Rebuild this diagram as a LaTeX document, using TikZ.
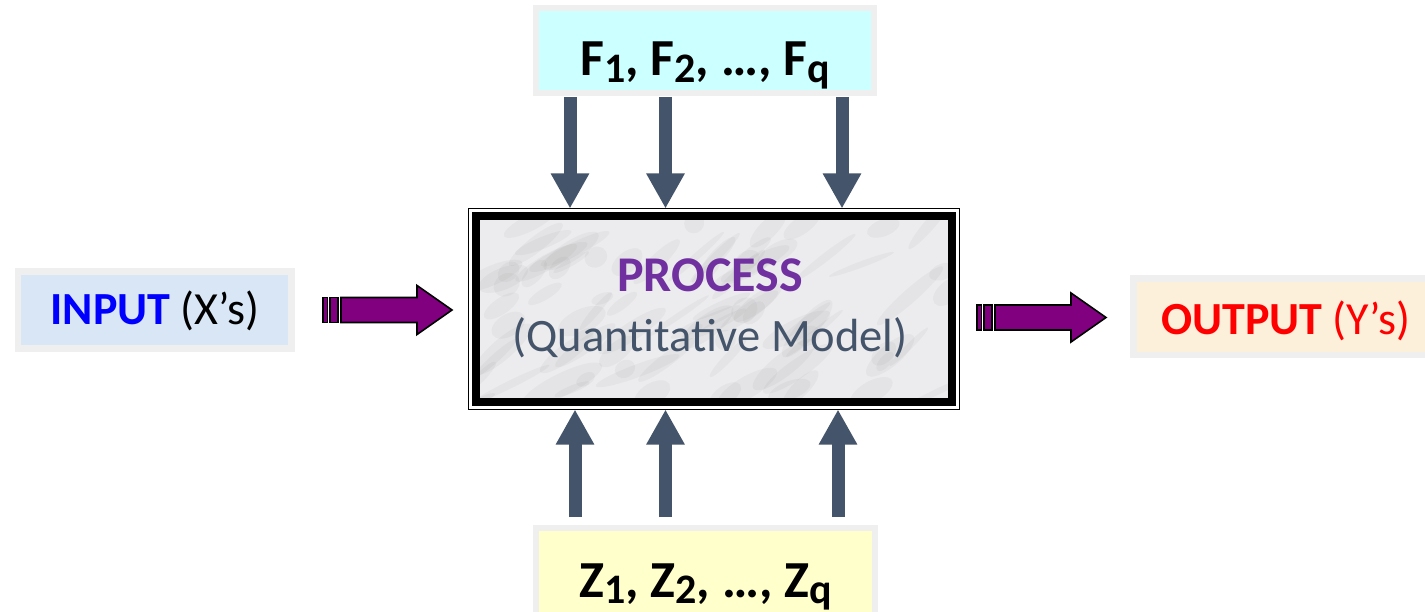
\documentclass[tikz,border=0pt]{standalone}
\usepackage{fontspec}
\setmainfont{Carlito}
\usetikzlibrary{arrows.meta,calc}
\definecolor{slate}{HTML}{44546A}
\definecolor{procpurple}{HTML}{7030A0}
\definecolor{arrpurple}{HTML}{800080}
\definecolor{boxgray}{HTML}{EFEFEF}
\definecolor{fcyan}{HTML}{CCFFFF}
\definecolor{zyellow}{HTML}{FFFFCC}
\definecolor{inblue}{HTML}{D9E6F6}
\definecolor{outbeige}{HTML}{FCF0DA}
\definecolor{marble}{HTML}{ECECEE}
\newcommand\mysub[1]{\raisebox{-6.5pt}{\fontsize{42}{45}\selectfont #1}}
\begin{document}
\begin{tikzpicture}[x=1pt,y=-1pt,
  lbox/.style={rectangle, draw=boxgray, line width=6pt, inner sep=0pt},
  garr/.style={draw=slate, line width=13pt, -{Triangle[width=36pt,length=35pt]}},
  pfill/.style={fill=arrpurple, draw=black, line width=1.6pt},
  blob/.style={fill=gray, opacity=0.07},
  parr/.pic={
    \filldraw[pfill] (0,-12.5) rectangle (4.5,12.5);
    \filldraw[pfill] (7,-12.5) rectangle (15,12.5);
    \filldraw[pfill] (18,-12.5) -- (94,-12.5) -- (94,-24.5) -- (129,0) -- (94,24.5) -- (94,12.5) -- (18,12.5) -- cycle;
  }]
\useasboundingbox (0,0) rectangle (1425,612);
\fill[white] (0,0) rectangle (1425,612);

% top and bottom boxes
\node[lbox, fill=fcyan, minimum width=338pt, minimum height=85pt,
      text height=60pt, text depth=9pt] (F) at (705,50.5)
  {\fontsize{52}{56}\selectfont\bfseries F\mysub{1}, F\mysub{2}, …, F\mysub{q}};
\node[lbox, fill=zyellow, minimum width=339pt, minimum height=87pt,
      text height=60pt, text depth=9pt] (Z) at (705.5,571.5)
  {\fontsize{52}{56}\selectfont\bfseries Z\mysub{1}, Z\mysub{2}, …, Z\mysub{q}};

% input / output
\node[lbox, line width=6.5pt, fill=inblue, minimum width=273.5pt, minimum height=77pt,
      text height=50pt, text depth=20pt] (I) at (154.75,310)
  {\fontsize{46}{50}\selectfont{\color{blue}\bfseries INPUT} (X’s)};
\node[lbox, line width=6.5pt, fill=outbeige, minimum width=300pt, minimum height=76.5pt,
      text height=52pt, text depth=15.5pt, anchor=west] (O) at (1130,316.75)
  {\hspace*{27pt}\fontsize{46}{50}\selectfont\color{red}{\bfseries OUTPUT} (Y’s)\hspace*{22pt}};

% process
\node[rectangle, draw=black, line width=8pt, fill=marble, outer sep=7.5pt,
      minimum width=476pt, minimum height=186pt, inner sep=0pt] (P) at (714,309) {};
\begin{scope}
  \clip (480,220) rectangle (948,398);
  \pgfmathsetseed{11}
  \foreach \i in {1,...,90}{
    \pgfmathsetmacro{\xa}{480+rnd*470}
    \pgfmathsetmacro{\ya}{220+rnd*180}
    \pgfmathsetmacro{\ra}{10+rnd*35}
    \pgfmathsetmacro{\rb}{3+rnd*9}
    \pgfmathsetmacro{\an}{20+rnd*30}
    \fill[blob, rotate around={\an:(\xa,\ya)}] (\xa,\ya) ellipse ({\ra pt} and {\rb pt});
  }
\end{scope}
\path (P.center) node[inner sep=0pt, text height=100pt, text depth=14pt]
  {\fontsize{46.5}{60}\selectfont\begin{tabular}[b]{@{}c@{}}
     {\fontsize{50}{60}\selectfont\bfseries\color{procpurple}PROCESS}\\
     \color{slate}(Quantitative Model)
   \end{tabular}\hspace*{8pt}};
\draw[line width=8pt] (476,216) rectangle (952,402);
\draw[line width=1.5pt] (P.north west) rectangle (P.south east);

% gray arrows
\coordinate (f1) at (570,97);
\coordinate (f2) at (665.5,97);
\coordinate (f3) at (842,97);
\coordinate (z1) at (575,517);
\coordinate (z2) at (665.5,517);
\coordinate (z3) at (838,517);
\foreach \c in {f1,f2,f3}{\draw[garr] (\c) -- (P.north -| \c);}
\foreach \c in {z1,z2,z3}{\draw[garr] (\c) -- (P.south -| \c);}

% purple arrows
\coordinate (ain) at (323,310);
\coordinate (aout) at (977,317.5);
\pic at (ain) {parr};
\pic at (aout) {parr};
\end{tikzpicture}
\end{document}
